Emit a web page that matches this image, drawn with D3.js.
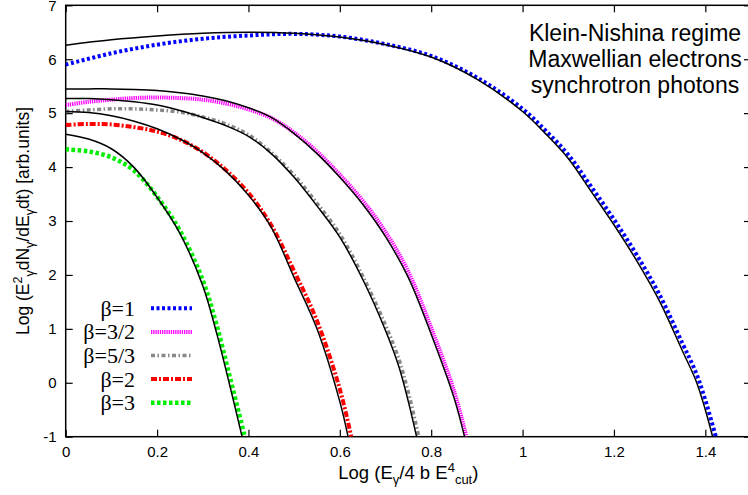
<!DOCTYPE html>
<html>
<head>
<meta charset="utf-8">
<script src="https://cdn.jsdelivr.net/npm/d3@7"></script>
<style>
  html, body { margin: 0; padding: 0; background: #fff; }
  svg { display: block; }
  .sans { font-family: "Liberation Sans", Arial, Helvetica, sans-serif; }
  .serif { font-family: "Liberation Serif", "Times New Roman", Times, serif; }
</style>
</head>
<body>
<svg id="chart" width="748" height="495"></svg>
<script>
// Axis ticks
const xTicks = [0, 0.2, 0.4, 0.6, 0.8, 1, 1.2, 1.4];
const yTicks = [-1, 0, 1, 2, 3, 4, 5, 6, 7];

// Legend labels, one per spectral index
const betaLabels = ["β=1", "β=3/2", "β=5/3", "β=2", "β=3"];

// Spectra: [log(E/4bE^4cut), log(E^2 dN/dE dt)]
const spectrum_b1 = [[0,5.90],[0.1,6.11],[0.2,6.27],[0.3,6.38],[0.4,6.44],[0.5,6.47],[0.6,6.42],[0.7,6.28],[0.8,6.06],[0.9,5.66],[1.0,5.08],[1.05,4.68],[1.1,4.23],[1.15,3.64],[1.2,3.03],[1.25,2.37],[1.3,1.63],[1.35,0.73],[1.38,0.18],[1.4,-0.32],[1.423,-1.0]];
const spectrum_b32 = [[0,5.15],[0.05,5.21],[0.1,5.25],[0.15,5.28],[0.2,5.29],[0.25,5.28],[0.3,5.25],[0.35,5.18],[0.4,5.07],[0.45,4.91],[0.5,4.64],[0.55,4.29],[0.6,3.86],[0.65,3.38],[0.7,2.80],[0.75,2.06],[0.8,1.02],[0.85,-0.15],[0.877,-1.0]];
const spectrum_b53 = [[0,5.03],[0.05,5.06],[0.1,5.08],[0.15,5.08],[0.2,5.06],[0.25,5.02],[0.3,4.93],[0.35,4.80],[0.4,4.60],[0.45,4.27],[0.5,3.85],[0.55,3.33],[0.6,2.76],[0.65,1.98],[0.7,1.07],[0.73,0.42],[0.75,-0.18],[0.773,-1.0]];
const spectrum_b2 = [[0,4.78],[0.05,4.80],[0.1,4.79],[0.15,4.74],[0.2,4.66],[0.25,4.51],[0.3,4.28],[0.35,3.95],[0.4,3.52],[0.45,2.92],[0.5,2.07],[0.55,1.15],[0.6,-0.12],[0.625,-1.0]];
const spectrum_b3 = [[0,4.33],[0.05,4.29],[0.1,4.18],[0.15,3.93],[0.2,3.45],[0.25,2.82],[0.3,1.90],[0.33,1.08],[0.36,0.08],[0.392,-1.0]];

// Analytic approximations (solid black)
const approx_b1 = [[0,6.26],[0.1,6.36],[0.2,6.43],[0.3,6.48],[0.4,6.50],[0.5,6.48],[0.6,6.41],[0.7,6.27],[0.8,6.04],[0.9,5.63],[1.0,5.03],[1.05,4.62],[1.1,4.16],[1.15,3.55],[1.2,2.93],[1.25,2.26],[1.3,1.51],[1.35,0.59],[1.38,0.03],[1.4,-0.50],[1.416,-1.0]];
const approx_b32 = [[0,5.45],[0.05,5.45],[0.1,5.45],[0.15,5.44],[0.2,5.42],[0.25,5.38],[0.3,5.32],[0.35,5.23],[0.4,5.10],[0.45,4.92],[0.5,4.62],[0.55,4.25],[0.6,3.81],[0.65,3.31],[0.7,2.71],[0.75,1.95],[0.8,0.90],[0.85,-0.28],[0.873,-1.0]];
const approx_b53 = [[0,5.27],[0.05,5.27],[0.1,5.25],[0.15,5.21],[0.2,5.15],[0.25,5.05],[0.3,4.92],[0.35,4.77],[0.4,4.57],[0.45,4.25],[0.5,3.81],[0.55,3.28],[0.6,2.70],[0.65,1.92],[0.7,0.97],[0.73,0.28],[0.75,-0.35],[0.768,-1.0]];
const approx_b2 = [[0,5.03],[0.05,5.01],[0.1,4.95],[0.15,4.85],[0.2,4.71],[0.25,4.52],[0.3,4.27],[0.35,3.93],[0.4,3.48],[0.45,2.88],[0.5,1.95],[0.55,1.00],[0.6,-0.35],[0.618,-1.0]];
const approx_b3 = [[0,4.61],[0.05,4.52],[0.1,4.34],[0.15,3.99],[0.2,3.44],[0.25,2.77],[0.3,1.80],[0.33,0.93],[0.36,-0.08],[0.386,-1.0]];

const spectra = [spectrum_b1, spectrum_b32, spectrum_b53, spectrum_b2, spectrum_b3];
const approximations = [approx_b1, approx_b32, approx_b53, approx_b2, approx_b3];

// Line styles for each beta
const styles = [
  { color: "#0000ff", width: 4,   dash: "3,2.5" },
  { color: "#ff00ff", width: 4,   dash: "1.3,0.9" },
  { color: "#888888", width: 3.5, dash: "4,2.5,1.5,2.5" },
  { color: "#ff0000", width: 4,   dash: "6,2,2,2" },
  { color: "#00ee00", width: 4.5, dash: "3.5,2.5" }
];

const svg = d3.select("#chart");
const L = 65.7, R = 751, T = 5.3, B = 436.7;

const x = d3.scaleLinear().domain([0, 1.5]).range([L, R]);
const y = d3.scaleLinear().domain([-1, 7]).range([B, T]);

svg.append("defs").append("clipPath").attr("id", "plotClip")
  .append("rect").attr("x", L).attr("y", T).attr("width", R - L).attr("height", B - T);

const tickLen = 7;
const tickFmt = d => String(d);

// Bottom axis with inward ticks
const gx = svg.append("g")
  .attr("transform", `translate(0,${B})`)
  .call(d3.axisBottom(x).tickValues(xTicks).tickFormat(tickFmt)
    .tickSizeInner(-tickLen).tickSizeOuter(0).tickPadding(10));
// Top axis, ticks only
const gxt = svg.append("g")
  .attr("transform", `translate(0,${T})`)
  .call(d3.axisTop(x).tickValues(xTicks).tickFormat("")
    .tickSizeInner(-tickLen).tickSizeOuter(0));
// Left axis
const gy = svg.append("g")
  .attr("transform", `translate(${L},0)`)
  .call(d3.axisLeft(y).tickValues(yTicks).tickFormat(tickFmt)
    .tickSizeInner(-tickLen).tickSizeOuter(0).tickPadding(9));
// Right axis, ticks only
const gyr = svg.append("g")
  .attr("transform", `translate(${R},0)`)
  .call(d3.axisRight(y).tickValues(yTicks).tickFormat("")
    .tickSizeInner(-tickLen).tickSizeOuter(0));

[gx, gxt, gy, gyr].forEach(g => {
  g.select(".domain").remove();
  g.selectAll(".tick line").attr("stroke", "#000").attr("stroke-width", 1.2);
  g.selectAll(".tick text").attr("fill", "#000").attr("font-size", 15)
    .attr("font-family", "'Liberation Sans', Arial, sans-serif");
});

// Plot frame
svg.append("rect").attr("x", L).attr("y", T).attr("width", R - L).attr("height", B - T)
  .attr("fill", "none").attr("stroke", "#000").attr("stroke-width", 1.5);

const line = d3.line().x(d => x(d[0])).y(d => y(d[1])).curve(d3.curveCatmullRom.alpha(0.5));

const plot = svg.append("g").attr("clip-path", "url(#plotClip)");
spectra.forEach((s, i) => {
  plot.append("path").datum(s).attr("d", line)
    .attr("fill", "none").attr("stroke", styles[i].color)
    .attr("stroke-width", styles[i].width).attr("stroke-dasharray", styles[i].dash);
});
approximations.forEach(s => {
  plot.append("path").datum(s).attr("d", line)
    .attr("fill", "none").attr("stroke", "#000").attr("stroke-width", 1.5);
});

// Legend
const legendY = d3.scaleLinear().domain([0, 4]).range([308.3, 402.7]);
const legend = svg.append("g");
betaLabels.forEach((lab, i) => {
  const yy = legendY(i);
  legend.append("text").attr("class", "serif")
    .attr("x", 135).attr("y", yy + 7.5).attr("text-anchor", "end")
    .attr("font-size", 22).attr("fill", "#000").text(lab);
  legend.append("line").attr("x1", 151).attr("x2", 192).attr("y1", yy).attr("y2", yy)
    .attr("stroke", styles[i].color).attr("stroke-width", styles[i].width)
    .attr("stroke-dasharray", styles[i].dash);
});

// Annotation in upper right
const note = ["Klein-Nishina regime", "Maxwellian electrons", "synchrotron photons"];
note.forEach((t, i) => {
  svg.append("text").attr("class", "sans")
    .attr("x", 635).attr("y", 40.5 + i * 26.1).attr("text-anchor", "middle")
    .attr("font-size", 23).attr("fill", "#000").text(t);
});

// X axis title
const xt = svg.append("text").attr("class", "sans")
  .attr("x", (L + R) / 2).attr("y", 479).attr("text-anchor", "middle")
  .attr("font-size", 18.5).attr("fill", "#000");
xt.append("tspan").text("Log (E");
xt.append("tspan").attr("dy", 5).attr("font-size", 13).text("γ");
xt.append("tspan").attr("dy", -5).text("/4 b E");
xt.append("tspan").attr("dy", -7).attr("font-size", 13).text("4");
xt.append("tspan").attr("dy", 12).attr("font-size", 13).text("cut");
xt.append("tspan").attr("dy", -5).text(")");

// Y axis title
const yt = svg.append("text").attr("class", "sans")
  .attr("transform", `translate(29,${(T + B) / 2}) rotate(-90)`)
  .attr("text-anchor", "middle").attr("font-size", 17.5).attr("fill", "#000");
yt.append("tspan").text("Log (E");
yt.append("tspan").attr("dy", -7).attr("font-size", 12.5).text("2");
yt.append("tspan").attr("dy", 12).attr("font-size", 12.5).text("γ");
yt.append("tspan").attr("dy", -5).text("dN");
yt.append("tspan").attr("dy", 5).attr("font-size", 12.5).text("γ");
yt.append("tspan").attr("dy", -5).text("/dE");
yt.append("tspan").attr("dy", 5).attr("font-size", 12.5).text("γ");
yt.append("tspan").attr("dy", -5).text("dt) [arb.units]");
</script>
</body>
</html>
